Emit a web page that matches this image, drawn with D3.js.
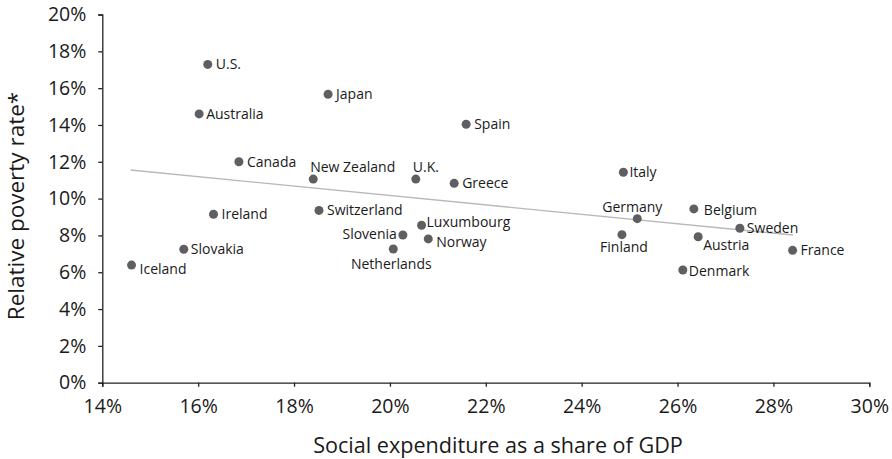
<!DOCTYPE html>
<html>
<head>
<meta charset="utf-8">
<script src="https://cdn.jsdelivr.net/npm/d3@7"></script>
<style>
	body { margin: 0; background: #fff; }
	text { font-family: "Open Sans", sans-serif; fill: #1a1a1a; }
</style>
</head>
<body>
<div id="chart01"></div>
<script>
// countries with social expenditure (% GDP) and relative poverty rate (%)
var countries = ["U.S.", "Japan", "Australia", "Spain", "Canada", "New Zealand", "U.K.", "Greece",
	"Italy", "Germany", "Belgium", "Sweden", "Finland", "Austria", "France", "Denmark",
	"Ireland", "Slovakia", "Iceland", "Switzerland", "Luxumbourg", "Slovenia", "Norway", "Netherlands"];
var expenditure = [16.2, 18.71, 16.02, 21.59, 16.85, 18.4, 20.54, 21.34,
	24.87, 25.16, 26.34, 27.3, 24.84, 26.43, 28.4, 26.11,
	16.32, 15.7, 14.61, 18.52, 20.66, 20.27, 20.8, 20.07];
var poverty = [17.29, 15.67, 14.6, 14.04, 12.0, 11.06, 11.06, 10.83,
	11.43, 8.91, 9.44, 8.39, 8.04, 7.93, 7.19, 6.12,
	9.15, 7.25, 6.39, 9.36, 8.55, 8.02, 7.81, 7.26];
// trend line end points
var trendX = [14.59, 28.41];
var trendY = [11.55, 8.02];
var xTicks = [14, 16, 18, 20, 22, 24, 26, 28, 30];
var yTicks = [0, 2, 4, 6, 8, 10, 12, 14, 16, 18, 20];

// where each label sits relative to its dot
var labelPos = {
	"U.S.": [8, 0, "start"], "Japan": [8, 0, "start"], "Australia": [7, 0, "start"],
	"Spain": [8, 0, "start"], "Canada": [8, 0, "start"], "New Zealand": [-3, -12, "start"],
	"U.K.": [-3, -12, "start"], "Greece": [8, 0, "start"], "Italy": [6, 0, "start"],
	"Germany": [-5, -12, "middle"], "Belgium": [10, 1, "start"], "Sweden": [7, 0, "start"],
	"Finland": [2, 12, "middle"], "Austria": [5, 8, "start"], "France": [8, 0, "start"],
	"Denmark": [6, 1, "start"], "Ireland": [8, 0, "start"], "Slovakia": [7, 0, "start"],
	"Iceland": [8, 4, "start"], "Switzerland": [8, 0, "start"], "Luxumbourg": [5, -3, "start"],
	"Slovenia": [-6, -1, "end"], "Norway": [8, 3, "start"], "Netherlands": [-2, 15, "middle"]
};

var width = 892;
var height = 459;
var margin = { top: 14.5, right: 22.7, bottom: 76.3, left: 102.3 };

var svg = d3.select("#chart01").append("svg")
	.attr("width", width)
	.attr("height", height);

var x = d3.scaleLinear().domain([14, 30]).range([margin.left, width - margin.right]);
var y = d3.scaleLinear().domain([0, 20]).range([height - margin.bottom, margin.top]);

// X-axis
var xAxis = svg.append("g")
	.attr("transform", `translate(0, ${height - margin.bottom})`)
	.call(d3.axisBottom(x).tickValues(xTicks).tickSize(4).tickPadding(12).tickFormat((d) => d + "%"));
xAxis.select(".domain").attr("stroke", "#222").attr("stroke-width", 1.3);
xAxis.selectAll(".tick line").attr("stroke", "#222").attr("stroke-width", 1.3);
xAxis.selectAll("text").style("font-size", "19.5px").attr("fill", "#1a1a1a");

// Y-axis
var yAxis = svg.append("g")
	.attr("transform", `translate(${margin.left}, 0)`)
	.call(d3.axisLeft(y).tickValues(yTicks).tickSize(4).tickPadding(12).tickFormat((d) => d + "%"));
yAxis.select(".domain").attr("stroke", "#222").attr("stroke-width", 1.3);
yAxis.selectAll(".tick line").attr("stroke", "#222").attr("stroke-width", 1.3);
yAxis.selectAll("text").style("font-size", "19.5px").attr("fill", "#1a1a1a");

// axis titles
svg.append("text")
	.attr("x", 498)
	.attr("y", 453)
	.attr("text-anchor", "middle")
	.attr("font-size", "21.6px")
	.text("Social expenditure as a share of GDP");

svg.append("text")
	.attr("transform", "translate(23.5, 206) rotate(-90)")
	.attr("text-anchor", "middle")
	.attr("font-size", "22.5px")
	.text("Relative poverty rate*");

// trend line
svg.append("line")
	.attr("x1", x(trendX[0])).attr("y1", y(trendY[0]))
	.attr("x2", x(trendX[1])).attr("y2", y(trendY[1]))
	.attr("stroke", "#b8b8b8")
	.attr("stroke-width", 1.4);

var data = countries.map((c, i) => ({ name: c, x: expenditure[i], y: poverty[i] }));

// dots
svg.selectAll(".dot")
	.data(data)
	.join("circle")
	.attr("class", "dot")
	.attr("cx", (d) => x(d.x))
	.attr("cy", (d) => y(d.y))
	.attr("r", 4.5)
	.attr("fill", "#5f5f63");

// labels
svg.selectAll(".label")
	.data(data)
	.join("text")
	.attr("class", "label")
	.attr("x", (d) => x(d.x) + labelPos[d.name][0])
	.attr("y", (d) => y(d.y) + labelPos[d.name][1])
	.attr("dy", "0.35em")
	.attr("text-anchor", (d) => labelPos[d.name][2])
	.attr("font-size", "14px")
	.text((d) => d.name);
</script>
</body>
</html>
